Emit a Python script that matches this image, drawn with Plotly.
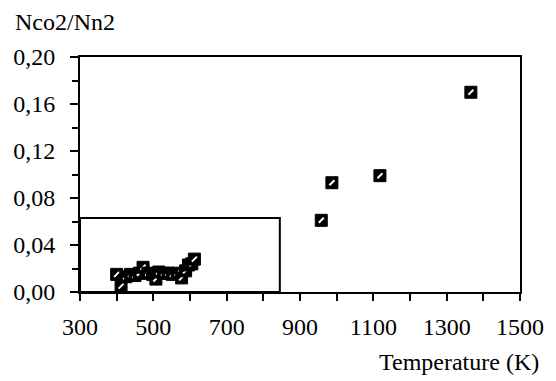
import plotly.graph_objects as go

# Data
temperature = [400, 412, 425, 438, 450, 462, 472, 485, 498, 507, 515, 528, 540, 552,
               565, 577, 588, 596, 605, 612, 958, 987, 1118, 1366]
ratio = [0.015, 0.005, 0.013, 0.015, 0.014, 0.016, 0.021, 0.016, 0.015, 0.011, 0.017,
         0.016, 0.016, 0.015, 0.016, 0.012, 0.018, 0.023, 0.024, 0.028,
         0.061, 0.093, 0.099, 0.170]
x_ticks = [300, 500, 700, 900, 1100, 1300, 1500]
y_ticks = [0.00, 0.04, 0.08, 0.12, 0.16, 0.20]
y_tick_labels = ["0,00", "0,04", "0,08", "0,12", "0,16", "0,20"]
box_x = [300, 845]
box_y = [0.0, 0.063]

FONT = "Times New Roman, Liberation Serif, DejaVu Serif, serif"

fig = go.Figure()
# draw each point as a black square with a white diagonal, in order
for xv, yv in zip(temperature, ratio):
    fig.add_trace(go.Scatter(
        x=[xv], y=[yv], mode="markers",
        marker=dict(symbol="square", size=12, color="black",
                    line=dict(color="black", width=1)),
        showlegend=False, hoverinfo="skip"))
    fig.add_trace(go.Scatter(
        x=[xv], y=[yv], mode="markers",
        marker=dict(symbol="line-ne", size=5, color="white",
                    line=dict(color="white", width=2)),
        showlegend=False, hoverinfo="skip"))

fig.add_shape(type="rect", xref="x", yref="y",
              x0=box_x[0], x1=box_x[1], y0=box_y[0], y1=box_y[1],
              line=dict(color="black", width=2), fillcolor="rgba(0,0,0,0)")

fig.update_layout(
    width=556, height=381,
    margin=dict(l=80, r=30, t=57, b=89),
    paper_bgcolor="white", plot_bgcolor="white",
    font=dict(family=FONT, size=24, color="black"),
    xaxis=dict(range=[300, 1500], tickvals=x_ticks,
               ticktext=[str(v) for v in x_ticks],
               ticks="outside", ticklen=7, tickwidth=2, tickcolor="black",
               ticklabelstandoff=5,
               minor=dict(dtick=100, ticks="outside", ticklen=7, tickwidth=2,
                          tickcolor="black", showgrid=False),
               showline=True, linewidth=2, linecolor="black", mirror=True,
               showgrid=False, zeroline=False,
               tickfont=dict(family=FONT, size=24)),
    yaxis=dict(range=[0, 0.20], tickvals=y_ticks, ticktext=y_tick_labels,
               ticks="outside", ticklen=8, tickwidth=2, tickcolor="black",
               ticklabelstandoff=10,
               minor=dict(dtick=0.02, ticks="outside", ticklen=6, tickwidth=2,
                          tickcolor="black", showgrid=False),
               showline=True, linewidth=2, linecolor="black", mirror=True,
               showgrid=False, zeroline=False,
               tickfont=dict(family=FONT, size=24)),
    annotations=[
        dict(text="Nco2/Nn2", xref="paper", yref="paper", x=-0.152, y=1.149,
             xanchor="left", yanchor="middle", showarrow=False,
             font=dict(family=FONT, size=24)),
        dict(text="Temperature (K)", xref="paper", yref="paper", x=1.047, y=-0.298,
             xanchor="right", yanchor="middle", showarrow=False,
             font=dict(family=FONT, size=24)),
    ],
)

fig.write_html("out.html")
